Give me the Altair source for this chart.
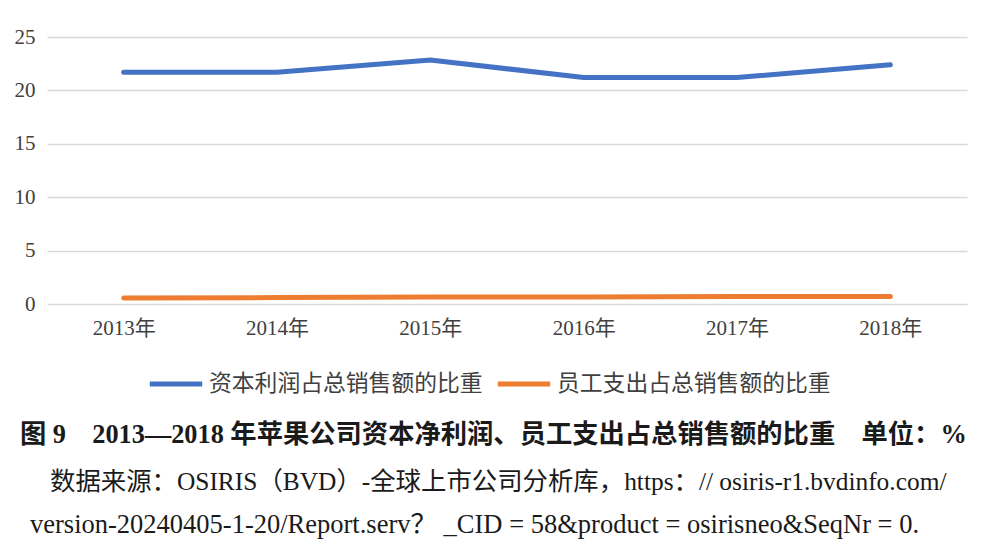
import altair as alt
import pandas as pd

years = ["2013年", "2014年", "2015年", "2016年", "2017年", "2018年"]
series_names = ["资本利润占总销售额的比重", "员工支出占总销售额的比重"]
capital_profit = [21.7, 21.7, 22.85, 21.2, 21.2, 22.4]
staff_cost = [0.56, 0.6, 0.65, 0.65, 0.7, 0.7]
colors = ["#4472C4", "#ED7D31"]

caption_lines = [
    "图 9　2013—2018 年苹果公司资本净利润、员工支出占总销售额的比重　单位：%",
    "数据来源：OSIRIS（BVD）-全球上市公司分析库，https：// osiris-r1.bvdinfo.com/",
    "version-20240405-1-20/Report.serv？ _CID = 58&product = osirisneo&SeqNr = 0.",
]

FONT = "Liberation Serif, Noto Sans CJK SC"

rows = []
for i, y in enumerate(years):
    rows.append({"year": y, "series": series_names[0], "value": capital_profit[i]})
    rows.append({"year": y, "series": series_names[1], "value": staff_cost[i]})
df = pd.DataFrame(rows)

lines = alt.Chart(df).mark_line(strokeWidth=5, strokeCap="round").encode(
    x=alt.X("year:O", sort=years, title=None,
            axis=alt.Axis(labelAngle=0, labelFontSize=21, labelPadding=13, ticks=False,
                          domain=False, labelColor="#404040", labelFont=FONT)),
    y=alt.Y("value:Q", title=None, scale=alt.Scale(domain=[0, 25]),
            axis=alt.Axis(values=[0, 5, 10, 15, 20, 25], labelFontSize=21, labelPadding=12,
                          ticks=False, domain=False, gridColor="#d9d9d9", gridWidth=1.5,
                          labelColor="#404040", labelFont=FONT)),
    color=alt.Color("series:N", sort=series_names,
                    scale=alt.Scale(domain=series_names, range=colors),
                    legend=alt.Legend(title=None, orient="none", direction="horizontal",
                                      legendX=100, legendY=318, symbolType="stroke",
                                      symbolSize=2750, symbolStrokeWidth=5,
                                      labelFontSize=22.8, labelOffset=4, columnPadding=4,
                                      labelLimit=400,
                                      labelColor="#404040", labelFont=FONT)),
)

cap_df = pd.DataFrame({"t": caption_lines})

cap1 = alt.Chart(cap_df.iloc[[0]]).mark_text(
    align="left", baseline="middle", fontSize=26.3, fontWeight="bold", font=FONT, color="#1a1a1a"
).encode(x=alt.value(-27), y=alt.value(398), text="t:N")

cap2 = alt.Chart(cap_df.iloc[[1]]).mark_text(
    align="left", baseline="middle", fontSize=25.4, font=FONT, color="#1a1a1a"
).encode(x=alt.value(3), y=alt.value(445), text="t:N")

cap3 = alt.Chart(cap_df.iloc[[2]]).mark_text(
    align="left", baseline="middle", fontSize=26.5, font=FONT, color="#1a1a1a"
).encode(x=alt.value(-17), y=alt.value(488), text="t:N")

chart = alt.layer(lines, cap1, cap2, cap3).properties(
    width=920, height=267,
    autosize=alt.AutoSizeParams(type="none"),
    padding={"left": 39, "top": 29, "right": 10, "bottom": 240},
).configure_view(stroke=None)

chart.save("out.html", embed_options={"renderer": "svg", "actions": False})
